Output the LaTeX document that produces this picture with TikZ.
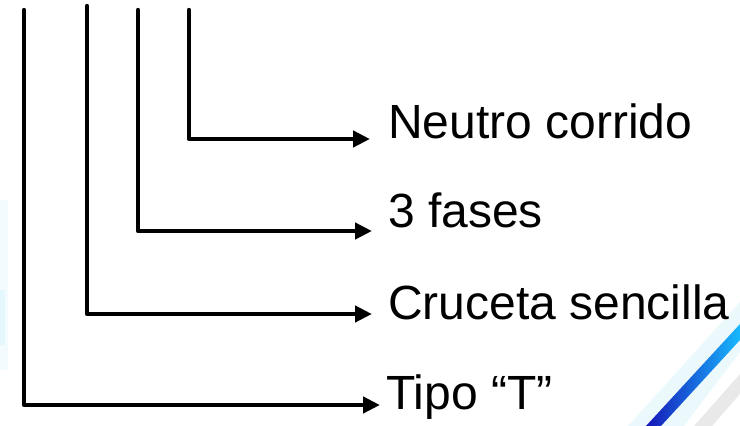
\documentclass[tikz,border=0pt]{standalone}
\usepackage{fontspec}
\setmainfont{Liberation Sans}
\usetikzlibrary{arrows.meta}
\begin{document}
\begin{tikzpicture}[x=1pt,y=-1pt,
  wire/.style={line width=4.4pt, line cap=round, line join=round},
  lead/.style={wire, -{Triangle[length=17pt,width=16pt]}},
  tag/.style={inner sep=0pt, anchor=base west, font=\fontsize{48}{56}\selectfont}]
  \useasboundingbox (0,0) rectangle (740,426);

  % soft blue sweep in the lower right corner
  \fill[cyan!10, opacity=0.8] (628,426) -- (740,302) -- (740,352) -- (684,426) -- cycle;
  \fill[gray!25, opacity=0.7] (694,426) -- (740,374) -- (740,394) -- (712,426) -- cycle;
  \shade[left color=blue!70!black, right color=cyan!70!blue, opacity=0.9]
    (646,426) -- (740,324) -- (740,340) -- (661,426) -- cycle;
  % faint haze on the left margin
  \fill[cyan!8, opacity=0.6] (0,200) rectangle (8,370);
  \fill[cyan!14, opacity=0.6] (0,290) rectangle (5,345);

  % branch points
  \coordinate (t1) at (24,10);   \coordinate (c1) at (24,405);  \coordinate (e1) at (380,405);
  \coordinate (t2) at (87,6);    \coordinate (c2) at (87,314);  \coordinate (e2) at (372,314);
  \coordinate (t3) at (138,10);  \coordinate (c3) at (138,231); \coordinate (e3) at (372,231);
  \coordinate (t4) at (189,10);  \coordinate (c4) at (189,139); \coordinate (e4) at (370,139);

  \draw[lead] (t4) -- (c4) -- (e4);
  \draw[lead] (t3) -- (c3) -- (e3);
  \draw[lead] (t2) -- (c2) -- (e2);
  \draw[lead] (t1) -- (c1) -- (e1);

  \node[tag] (neutro) at (388,138) {Neutro corrido};
  \node[tag] (fases)  at (388,227) {3 fases};
  \node[tag] (cruceta) at (388,319) {Cruceta sencilla};
  \node[tag] (tipo)   at (386,409) {Tipo “T”};
\end{tikzpicture}
\end{document}
